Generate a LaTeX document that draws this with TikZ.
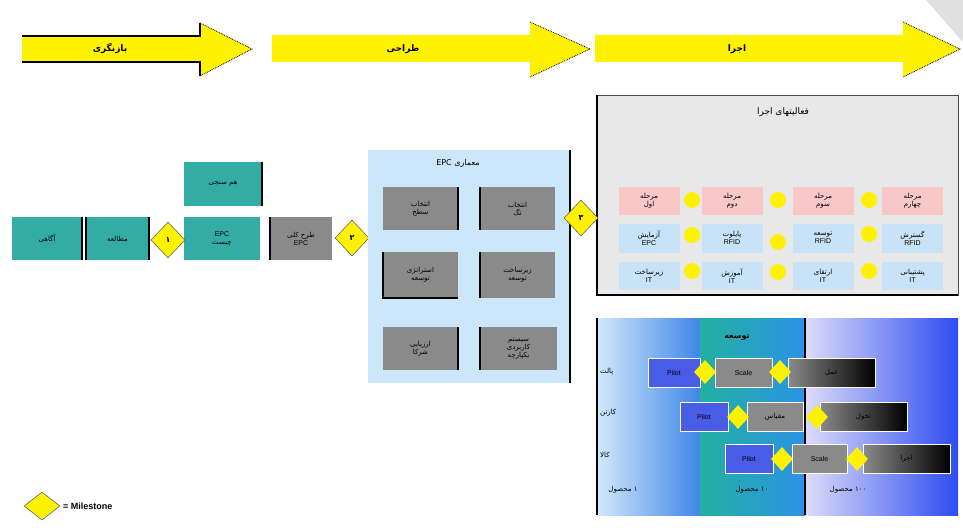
\documentclass[tikz,border=0pt]{standalone}
\usepackage{fontspec}
\setmainfont{Liberation Sans}
\newfontfamily\arabicfont[Script=Arabic]{DejaVu Sans}
\TeXXeTstate=1
\usetikzlibrary{shapes.geometric}
\newcommand\fa[1]{{\arabicfont\beginR #1\endR}}
\definecolor{tealc}{RGB}{52,172,166}
\definecolor{grayc}{RGB}{138,138,138}
\definecolor{epcblue}{RGB}{204,230,250}
\definecolor{panelgray}{RGB}{232,232,232}
\definecolor{pinkc}{RGB}{248,200,200}
\definecolor{lblue}{RGB}{200,226,248}
\definecolor{yel}{RGB}{255,242,0}
\definecolor{pilotc}{RGB}{72,92,232}
\begin{document}
\begin{tikzpicture}[x=1pt,y=-1pt,
  every node/.style={font=\fontsize{7}{8}\selectfont, align=center, inner sep=0pt},
  tealbox/.style={fill=tealc, minimum height=43},
  graybox/.style={fill=grayc, minimum width=75, minimum height=43},
  msd/.style={diamond, fill=yel, draw=black!60, line width=0.6, minimum width=34, minimum height=36, font=\fontsize{8}{9}\selectfont\bfseries},
  blackedge/.style={line width=1.8, black},
  cellp/.style={fill=pinkc, minimum width=61, minimum height=28},
  cellb/.style={fill=lblue, minimum width=61, minimum height=29},
  ydot/.style={circle, fill=yel, minimum size=16},
  smd/.style={diamond, fill=yel, minimum width=22, minimum height=24},
  pilotbox/.style={fill=pilotc, draw=white, line width=1, minimum height=29},
  scalebox/.style={fill=grayc, draw=white, line width=1, minimum height=29},
  darkbox/.style={left color=grayc, right color=black, draw=white, line width=1, minimum height=29, minimum width=87},
  phaselabel/.style={font=\fontsize{9}{10}\selectfont\bfseries},
]
\useasboundingbox (0,0) rectangle (963,527);
\fill[white] (0,0) rectangle (963,527);
\fill[black!12] (926,0) -- (963,0) -- (963,42) -- cycle;

% phase arrows
\fill[yellow] (22,36) -- (200,36) -- (200,23) -- (252,49) -- (200,76) -- (200,62) -- (22,62) -- cycle;
\draw[line width=2] (22,36) -- (200,36) -- (200,23);
\draw[line width=2] (22,62) -- (200,62) -- (200,76);
\draw[densely dotted, line width=0.8] (200,23) -- (252,49) -- (200,76);
\node[phaselabel] (ph1) at (110,49) {\fa{بازنگری}};

\fill[yellow] (272,35) -- (530,35) -- (530,22) -- (590,49) -- (530,77) -- (530,62) -- (272,62) -- cycle;
\draw[densely dotted, line width=0.8] (530,22) -- (590,49) -- (530,77);
\node[phaselabel] (ph2) at (403,49) {\fa{طراحی}};

\fill[yellow] (595,35) -- (903,35) -- (903,22) -- (960,49) -- (903,77) -- (903,62) -- (595,62) -- cycle;
\draw[densely dotted, line width=0.8] (903,22) -- (960,49) -- (903,77);
\node[phaselabel] (ph3) at (737,49) {\fa{اجرا}};

% left chain
\node[tealbox, minimum width=70] (aw) at (47,238.5) {\fa{آگاهی}};
\draw[blackedge] (aw.north east) -- (aw.south east);
\node[tealbox, minimum width=63] (st) at (117.5,238.5) {\fa{مطالعه}};
\draw[blackedge] (st.north west) -- (st.south west);
\draw[blackedge] (st.north east) -- (st.south east);
\node[tealbox, minimum width=76] (epc) at (222,238.5) {EPC\\\fa{چیست}};
\node[tealbox, minimum width=78, minimum height=44] (bm) at (223,184) {\fa{هم سنجی}};
\draw[blackedge] (bm.north east) -- (bm.south east);
\node[graybox, minimum width=62] (plan) at (301,238.5) {\fa{طرح کلی}\\EPC};
\draw[blackedge] (plan.north west) -- (plan.south west);
\node[msd] (m1) at (168,240) {\arabicfont ۱};
\node[msd] (m2) at (352,238) {\arabicfont ۲};

% EPC architecture panel
\node[fill=epcblue, minimum width=202, minimum height=233] (arch) at (469,266.5) {};
\draw[blackedge] (arch.north east) -- (arch.south east);
\node[font=\fontsize{8}{9}\selectfont] (archt) at (458,163) {\fa{معماری \beginL EPC\endL}};
\node[graybox] (g1) at (420.5,208.5) {\fa{انتخاب}\\\fa{سطح}};
\draw[blackedge] (g1.north east) -- (g1.south east);
\node[graybox] (g2) at (517.5,208.5) {\fa{انتخاب}\\\fa{تگ}};
\draw[blackedge] (g2.north west) -- (g2.south west);
\node[graybox, minimum height=46] (g3) at (420.5,275) {\fa{استراتژی}\\\fa{توسعه}};
\draw[blackedge] (g3.north west) -- (g3.south west) -- (g3.south east);
\node[graybox, minimum height=46] (g4) at (517.5,275) {\fa{زیرساخت}\\\fa{توسعه}};
\draw[blackedge] (g4.north west) -- (g4.south west);
\node[graybox] (g5) at (420.5,348.5) {\fa{ارزیابی}\\\fa{شرکا}};
\draw[blackedge] (g5.north east) -- (g5.south east);
\node[graybox, minimum width=77] (g6) at (518.5,348.5) {\fa{سیستم}\\\fa{کاربردی}\\\fa{یکپارچه}};
\draw[blackedge] (g6.north west) -- (g6.south west);

% implementation activities panel
\node[fill=panelgray, draw=black!70, line width=0.6, minimum width=361, minimum height=200] (impl) at (777.5,195) {};
\draw[blackedge] (impl.north west) -- (impl.south west) -- (impl.south east);
\node[font=\fontsize{9}{10}\selectfont] (implt) at (783,112) {\fa{فعالیتهای اجرا}};

\node[cellp] (a1) at (649,201) {\fa{مرحله}\\\fa{اول}};
\node[cellp] (a2) at (732,201) {\fa{مرحله}\\\fa{دوم}};
\node[cellp] (a3) at (823,201) {\fa{مرحله}\\\fa{سوم}};
\node[cellp] (a4) at (912.5,201) {\fa{مرحله}\\\fa{چهارم}};
\node[cellb] (b1) at (649,238) {\fa{آزمایش}\\EPC};
\node[cellb] (b2) at (732,238) {\fa{پایلوت}\\RFID};
\node[cellb] (b3) at (823,238) {\fa{توسعه}\\RFID};
\node[cellb] (b4) at (912.5,238) {\fa{گسترش}\\RFID};
\node[cellb, minimum height=28] (c1) at (649,276) {\fa{زیرساخت}\\IT};
\node[cellb, minimum height=28] (c2) at (732,276) {\fa{آموزش}\\IT};
\node[cellb, minimum height=28] (c3) at (823,276) {\fa{ارتقای}\\IT};
\node[cellb, minimum height=28] (c4) at (912.5,276) {\fa{پشتیبانی}\\IT};
\node[ydot] (da1) at (692,200) {};
\node[ydot] (da2) at (778,200) {};
\node[ydot] (da3) at (869,200) {};
\node[ydot] (db1) at (692,235) {};
\node[ydot] (db2) at (778,242) {};
\node[ydot] (db3) at (869,234) {};
\node[ydot] (dc1) at (692,271) {};
\node[ydot] (dc2) at (778,272) {};
\node[ydot] (dc3) at (869,271) {};

\node[msd] (m3) at (581,218) {\arabicfont ۳};

% rollout panel
\fill[left color={rgb,255:red,210;green,232;blue,251}, right color={rgb,255:red,63;green,134;blue,232}] (597,318) rectangle (700,515);
\fill[left color={rgb,255:red,34;green,176;blue,160}, right color={rgb,255:red,44;green,147;blue,230}] (700,318) rectangle (805,515);
\fill[left color={rgb,255:red,220;green,220;blue,250}, right color={rgb,255:red,45;green,76;blue,240}] (805,318) rectangle (958,515);
\draw[line width=1.2] (805,318) -- (805,515);
\draw[blackedge] (597,318) -- (597,515);
\node[font=\fontsize{8}{9}\selectfont\bfseries] (dev) at (737,338) {\fa{توسعه}};

\node[anchor=west] (rl1) at (600,372) {\fa{پالت}};
\node[anchor=west] (rl2) at (600,413) {\fa{کارتن}};
\node[anchor=west] (rl3) at (600,455) {\fa{کالا}};
\node (bl1) at (623,490) {\fa{۱ محصول}};
\node (bl2) at (752,490) {\fa{۱۰ محصول}};
\node (bl3) at (848,490) {\fa{۱۰۰ محصول}};

\node[pilotbox, minimum width=52] (r1p) at (674,372.5) {Pilot};
\node[scalebox, minimum width=57] (r1s) at (743.5,372.5) {Scale};
\node[darkbox] (r1d) at (831.5,372.5) {\fa{عمل}};
\node[smd] (r1m1) at (705,372) {};
\node[smd] (r1m2) at (780,372) {};

\node[pilotbox, minimum width=48] (r2p) at (704,417) {Pilot};
\node[scalebox, minimum width=56] (r2s) at (775,417) {\fa{مقیاس}};
\node[darkbox] (r2d) at (863.5,417) {\fa{تحول}};
\node[smd] (r2m1) at (738,417) {};
\node[smd] (r2m2) at (817,417) {};

\node[pilotbox, minimum width=48] (r3p) at (749,459) {Pilot};
\node[scalebox, minimum width=55] (r3s) at (819.5,459) {Scale};
\node[darkbox] (r3d) at (906.5,459) {\fa{اجرا}};
\node[smd] (r3m1) at (782,459) {};
\node[smd] (r3m2) at (857,459) {};

% legend
\node[msd, minimum width=36, minimum height=28] (lg) at (42,506) {};
\node[anchor=west, font=\fontsize{9}{10}\selectfont\bfseries] (lgt) at (63,506) {= Milestone};
\end{tikzpicture}
\end{document}
